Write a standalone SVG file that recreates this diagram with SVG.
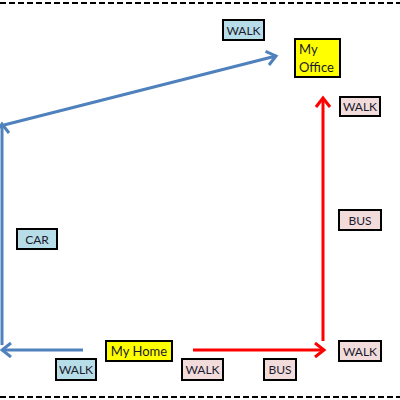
<svg xmlns="http://www.w3.org/2000/svg" width="400" height="400" viewBox="0 0 400 400">
<defs>
<style>
.box{stroke:#000;stroke-width:2}
.blue{fill:#b7dde8}
.pink{fill:#f2dcdb}
.yellow{fill:#ffff00}
.t{font-family:Lato,"Liberation Sans",sans-serif;font-size:12px;fill:#1a1a2e}
.big{font-size:13px}
.bl{fill:none;stroke:#4f81bd;stroke-width:3}
.rd{fill:none;stroke:#ff0000;stroke-width:3}
.dash{stroke:#000;stroke-width:2;stroke-dasharray:6 3}
</style>
<marker id="ab" markerUnits="userSpaceOnUse" markerWidth="16" markerHeight="18" refX="11" refY="8" orient="auto">
<path d="M2,1 L11,8 L2,15" fill="none" stroke="#4f81bd" stroke-width="3"/>
</marker>
<marker id="ar" markerUnits="userSpaceOnUse" markerWidth="16" markerHeight="18" refX="11" refY="8" orient="auto">
<path d="M2,1 L11,8 L2,15" fill="none" stroke="#ff0000" stroke-width="3"/>
</marker>
</defs>
<rect width="400" height="400" fill="#fff"/>
<line class="dash" x1="0" y1="3" x2="400" y2="3"/>
<line class="dash" x1="0" y1="397" x2="400" y2="397"/>
<g id="connectors">
<line class="bl" x1="2" y1="345" x2="2" y2="124" marker-end="url(#ab)"/>
<line class="bl" x1="4" y1="125" x2="276" y2="56" marker-end="url(#ab)"/>
<line class="bl" x1="83" y1="350" x2="2" y2="350" marker-end="url(#ab)"/>
<line class="rd" x1="193" y1="350" x2="324" y2="350" marker-end="url(#ar)"/>
<line class="rd" x1="323" y1="341" x2="323" y2="98" marker-end="url(#ar)"/>
</g>
<g id="office"><rect class="box yellow" x="295" y="39" width="45" height="38"/><text class="t big" x="299" y="54">My</text><text class="t big" x="299" y="72">Office</text></g>
<g id="home"><rect class="box yellow" x="106" y="341" width="66" height="20"/><text class="t big" x="139" y="355.5" text-anchor="middle">My Home</text></g>
<g id="walk-top"><rect class="box blue" x="223" y="20" width="41" height="20"/><text class="t" x="243.5" y="34.5" text-anchor="middle">WALK</text></g>
<g id="walk-office"><rect class="box pink" x="340" y="97" width="40" height="19"/><text class="t" x="360" y="111" text-anchor="middle">WALK</text></g>
<g id="car"><rect class="box blue" x="17" y="229" width="40" height="20"/><text class="t" x="37" y="243.5" text-anchor="middle">CAR</text></g>
<g id="bus-right"><rect class="box pink" x="339" y="210" width="42" height="20"/><text class="t" x="360" y="224.5" text-anchor="middle">BUS</text></g>
<g id="walk-br"><rect class="box pink" x="339" y="341" width="42" height="20"/><text class="t" x="360" y="355.5" text-anchor="middle">WALK</text></g>
<g id="walk-bl"><rect class="box blue" x="56" y="359" width="40" height="21"/><text class="t" x="76" y="374" text-anchor="middle">WALK</text></g>
<g id="walk-bm"><rect class="box pink" x="182" y="359" width="41" height="21"/><text class="t" x="202.5" y="374" text-anchor="middle">WALK</text></g>
<g id="bus-bottom"><rect class="box pink" x="264" y="359" width="32" height="21"/><text class="t" x="280" y="374" text-anchor="middle">BUS</text></g>
</svg>
